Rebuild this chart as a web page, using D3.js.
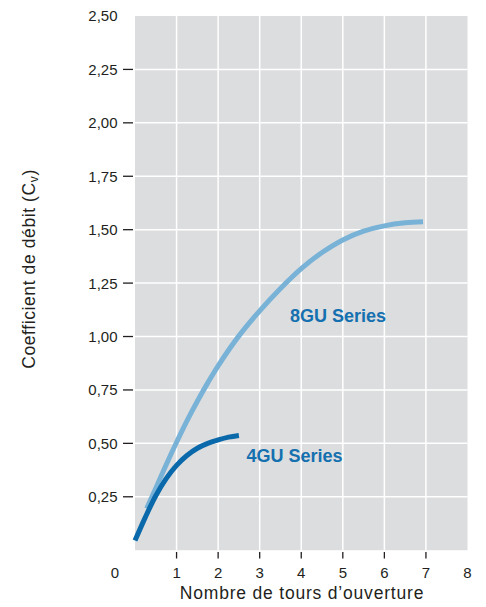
<!DOCTYPE html>
<html>
<head>
<meta charset="utf-8">
<script src="https://cdn.jsdelivr.net/npm/d3@7"></script>
<style>
  html, body { margin: 0; padding: 0; background: #fff; }
  svg { display: block; font-family: "Liberation Sans", Arial, Helvetica, sans-serif; }
</style>
</head>
<body>
<svg id="chart" width="486" height="607"></svg>
<script>
// ---- data ----
const series4GU_x = [0, 0.25, 0.5, 0.75, 1, 1.25, 1.5, 1.75, 2, 2.25, 2.5];
const series4GU_y = [0.045, 0.155, 0.255, 0.335, 0.397, 0.443, 0.477, 0.50, 0.516, 0.529, 0.537];
const series8GU_x = [0.28, 0.5, 0.75, 1, 1.25, 1.5, 1.75, 2, 2.5, 3, 3.5, 4, 4.5, 5, 5.5, 6, 6.5, 6.93];
const series8GU_y = [0.195, 0.29, 0.40, 0.505, 0.605, 0.697, 0.783, 0.863, 1.003, 1.12, 1.225, 1.318, 1.393, 1.452, 1.493, 1.518, 1.532, 1.537];
const yTicks = [0.25, 0.5, 0.75, 1.0, 1.25, 1.5, 1.75, 2.0, 2.25, 2.5];
const xTicks = [1, 2, 3, 4, 5, 6, 7, 8];
const seriesNames = ["4GU Series", "8GU Series"];

// ---- layout ----
const svg = d3.select("#chart");
const x = d3.scaleLinear().domain([0, 8]).range([135, 467.5]);
const y = d3.scaleLinear().domain([0, 2.5]).range([550.2, 16]);
const fmt = v => d3.format(".2f")(v).replace(".", ",");

// background
svg.append("rect")
  .attr("x", x(0)).attr("y", y(2.5))
  .attr("width", x(8) - x(0)).attr("height", y(0) - y(2.5))
  .attr("fill", "#dcdddf");

// gridlines
svg.append("g").selectAll("line").data(xTicks.filter(d => d < 8)).join("line")
  .attr("x1", d => x(d)).attr("x2", d => x(d))
  .attr("y1", y(2.5)).attr("y2", y(0))
  .attr("stroke", "#fff").attr("stroke-width", 1.5);
svg.append("g").selectAll("line").data(yTicks.filter(d => d < 2.5)).join("line")
  .attr("x1", x(0)).attr("x2", x(8))
  .attr("y1", d => y(d)).attr("y2", d => y(d))
  .attr("stroke", "#fff").attr("stroke-width", 1.5);

// y axis ticks + labels
const yg = svg.append("g");
yg.selectAll("line").data(yTicks.filter(d => d < 2.5)).join("line")
  .attr("x1", 123).attr("x2", 133)
  .attr("y1", d => y(d)).attr("y2", d => y(d))
  .attr("stroke", "#231f20").attr("stroke-width", 1.3);
yg.selectAll("text").data(yTicks).join("text")
  .attr("x", 117.5).attr("y", d => y(d)).attr("dy", "0.36em")
  .attr("text-anchor", "end").attr("font-size", 15).attr("fill", "#231f20")
  .text(fmt);

// x axis ticks + labels
const xg = svg.append("g");
xg.selectAll("line").data(xTicks.filter(d => d < 8)).join("line")
  .attr("x1", d => x(d)).attr("x2", d => x(d))
  .attr("y1", 552).attr("y2", 558.5)
  .attr("stroke", "#231f20").attr("stroke-width", 1.3);
xg.selectAll("text").data(xTicks).join("text")
  .attr("x", d => x(d)).attr("y", 578)
  .attr("text-anchor", "middle").attr("font-size", 15).attr("fill", "#231f20")
  .text(d => d);
svg.append("text").attr("x", 115).attr("y", 578)
  .attr("text-anchor", "middle").attr("font-size", 15).attr("fill", "#231f20")
  .text("0");

// axis titles
svg.append("text").attr("x", 302).attr("y", 599)
  .attr("text-anchor", "middle").attr("font-size", 17.5).attr("fill", "#231f20")
  .attr("letter-spacing", 0.8)
  .text("Nombre de tours d’ouverture");
const yt = svg.append("text")
  .attr("transform", "translate(35,269) rotate(-90)")
  .attr("text-anchor", "middle").attr("font-size", 17.5).attr("fill", "#231f20")
  .attr("letter-spacing", 0.6);
yt.append("tspan").text("Coefficient de débit (C");
yt.append("tspan").attr("font-size", 12).attr("dy", 3).text("v");
yt.append("tspan").attr("dy", -3).text(")");

// lines
const line = d3.line().x(d => x(d[0])).y(d => y(d[1])).curve(d3.curveCatmullRom.alpha(0.5));
svg.append("path")
  .datum(series8GU_x.map((v, i) => [v, series8GU_y[i]]))
  .attr("d", line).attr("fill", "none")
  .attr("stroke", "#79b2d7").attr("stroke-width", 5);
svg.append("path")
  .datum(series4GU_x.map((v, i) => [v, series4GU_y[i]]))
  .attr("d", line).attr("fill", "none")
  .attr("stroke", "#0a69aa").attr("stroke-width", 5);

// series labels
svg.append("text").attr("x", 246.5).attr("y", 461.5)
  .attr("font-size", 18).attr("font-weight", "bold").attr("fill", "#1470af")
  .text(seriesNames[0]);
svg.append("text").attr("x", 290).attr("y", 321.5)
  .attr("font-size", 18).attr("font-weight", "bold").attr("fill", "#1470af")
  .text(seriesNames[1]);
</script>
</body>
</html>
